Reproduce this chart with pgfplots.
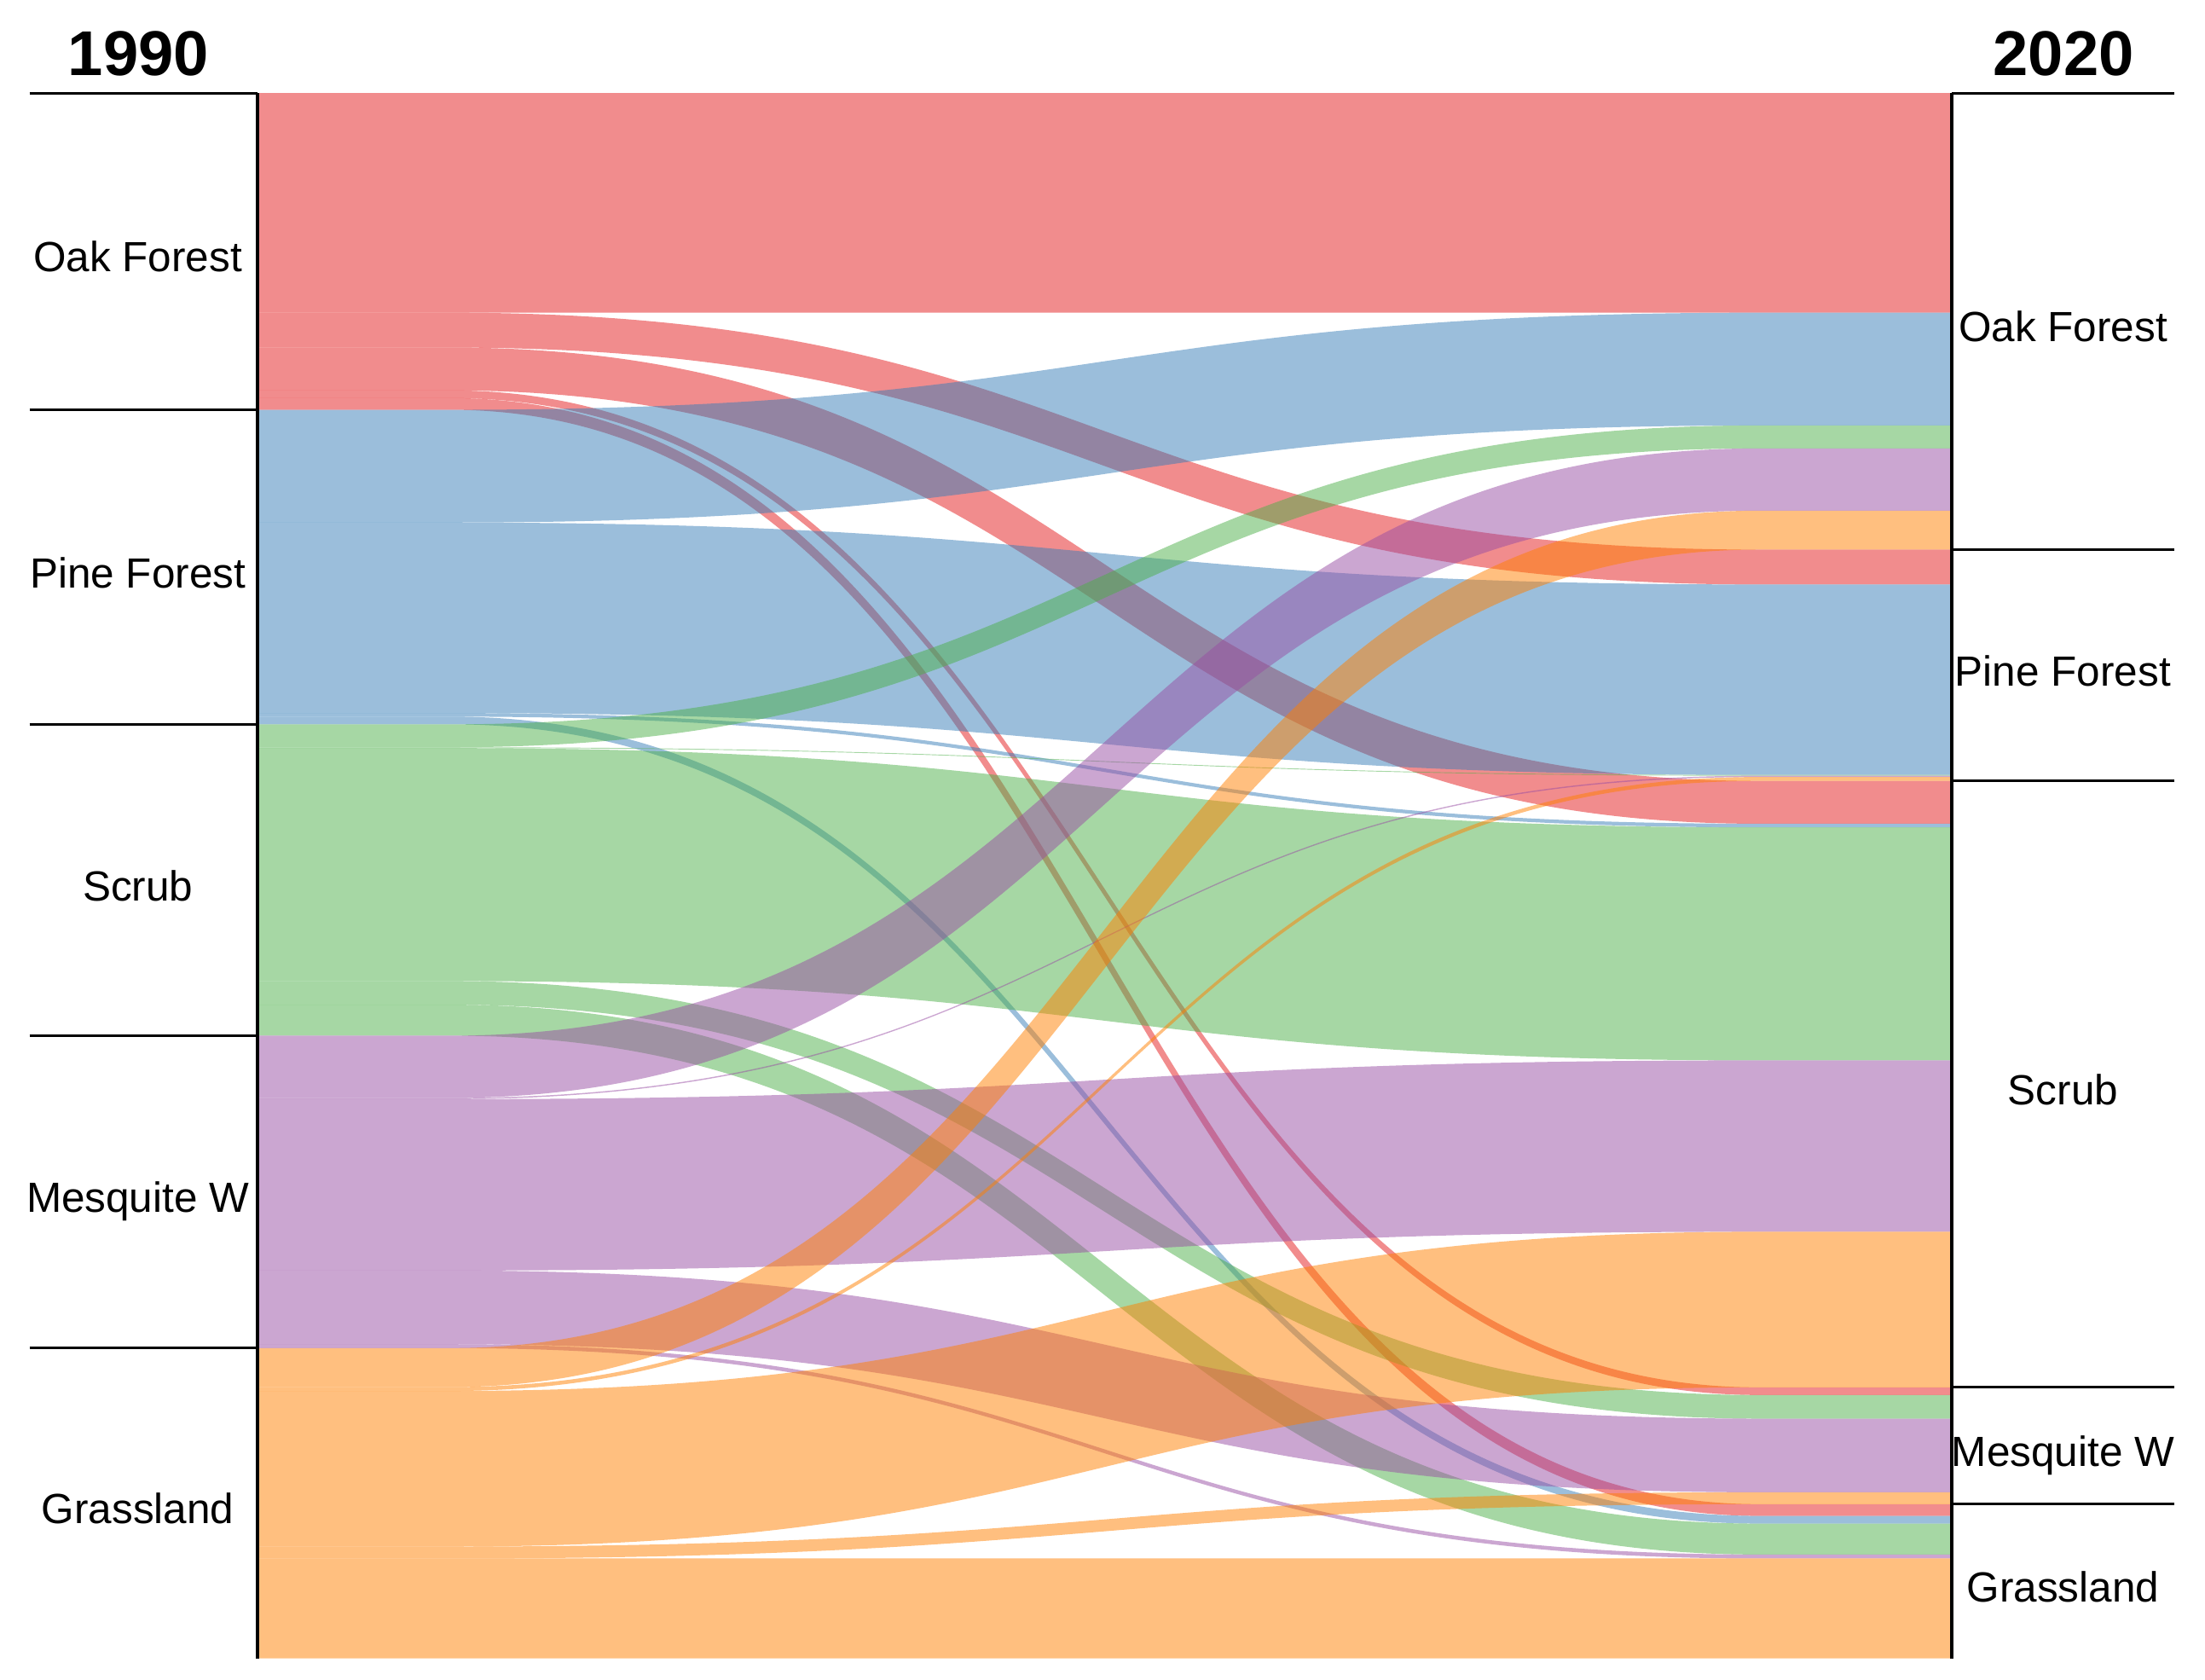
\documentclass[border=0pt]{standalone}
\usepackage{pgfplots}
\pgfplotsset{compat=1.18}
\usepackage{pgfplotstable}
\usepackage{fontspec}
\setmainfont{Liberation Sans}

\definecolor{c0}{HTML}{E41A1C}
\definecolor{c1}{HTML}{377EB8}
\definecolor{c2}{HTML}{4DAF4A}
\definecolor{c3}{HTML}{984EA3}
\definecolor{c4}{HTML}{FF7F00}

% Land-cover transitions 1990 -> 2020 (percent of total area)
% classes: 0 Oak Forest, 1 Pine Forest, 2 Scrub, 3 Mesquite W, 4 Grassland
\pgfplotstableread{
src dst val
0 0 14.05
0 1 2.23
0 2 2.74
0 3 0.49
0 4 0.75
1 0 7.21
1 1 12.18
1 2 0.23
1 4 0.49
2 0 1.47
2 1 0.05
2 2 14.90
2 3 1.51
2 4 1.98
3 0 3.98
3 1 0.08
3 2 10.96
3 3 4.71
3 4 0.25
4 0 2.49
4 1 0.25
4 2 9.95
4 3 0.76
4 4 6.39
}\flows

\newcommand\clsname[1]{\ifcase#1 Oak Forest\or Pine Forest\or Scrub\or Mesquite W\or Grassland\fi}
\newcommand\labfont{\fontsize{15}{18}\selectfont}
\newcommand\titfont{\fontsize{22.5}{27}\selectfont\bfseries}

% layout (x in picture units)
\def\xL{183}\def\xR{1388}
\def\xa{320}\def\xb{1251}\def\xm{785.5}

% ---- stacking of the flows ----
\pgfplotstablegetrowsof{\flows}
\pgfmathtruncatemacro\nrows{\pgfplotsretval-1}
\foreach \k in {0,...,4}{%
  \expandafter\xdef\csname C\k\endcsname{0}%
  \expandafter\xdef\csname R\k\endcsname{0}}
\xdef\cumL{0}
\foreach \i in {0,...,\nrows}{%
  \pgfplotstablegetelem{\i}{src}\of\flows \pgfmathtruncatemacro\fsrc{\pgfplotsretval}%
  \pgfplotstablegetelem{\i}{dst}\of\flows \pgfmathtruncatemacro\fdst{\pgfplotsretval}%
  \pgfplotstablegetelem{\i}{val}\of\flows \let\fval\pgfplotsretval
  \expandafter\xdef\csname FC\i\endcsname{c\fsrc}%
  \expandafter\xdef\csname D\i\endcsname{\fdst}%
  \expandafter\xdef\csname V\i\endcsname{\fval}%
  \expandafter\xdef\csname LT\i\endcsname{\cumL}%
  \pgfmathparse{\cumL+\fval}\xdef\cumL{\pgfmathresult}%
  \expandafter\xdef\csname LB\i\endcsname{\cumL}%
  \pgfmathparse{\csname C\fdst\endcsname+\fval}%
  \expandafter\xdef\csname C\fdst\endcsname{\pgfmathresult}%
  \pgfmathparse{\csname R\fsrc\endcsname+\fval}%
  \expandafter\xdef\csname R\fsrc\endcsname{\pgfmathresult}%
}
\xdef\accL{0}\xdef\accR{0}
\foreach \k in {0,...,4}{%
  \expandafter\xdef\csname LS\k\endcsname{\accL}%
  \expandafter\xdef\csname RS\k\endcsname{\accR}%
  \expandafter\xdef\csname P\k\endcsname{\accR}%
  \pgfmathparse{\accL+\csname R\k\endcsname}\xdef\accL{\pgfmathresult}%
  \pgfmathparse{\accR+\csname C\k\endcsname}\xdef\accR{\pgfmathresult}%
  \pgfmathparse{(\csname LS\k\endcsname+\accL)/2+1.32}%
  \expandafter\xdef\csname LY\k\endcsname{\pgfmathresult}%
  \pgfmathparse{(\csname RS\k\endcsname+\accR)/2+1.32}%
  \expandafter\xdef\csname RY\k\endcsname{\pgfmathresult}%
}
\xdef\totL{\accL}\xdef\totR{\accR}
\foreach \i in {0,...,\nrows}{%
  \edef\fdst{\csname D\i\endcsname}%
  \expandafter\xdef\csname RT\i\endcsname{\csname P\fdst\endcsname}%
  \pgfmathparse{\csname P\fdst\endcsname+\csname V\i\endcsname}%
  \expandafter\xdef\csname P\fdst\endcsname{\pgfmathresult}%
  \expandafter\xdef\csname RB\i\endcsname{\pgfmathresult}%
}

\newcommand\ribbon[1]{%
  \edef\tmp{\noexpand\fill[fill=\csname FC#1\endcsname, fill opacity=0.5, draw=none]
    (axis cs:\xL,\csname LT#1\endcsname) -- (axis cs:\xa,\csname LT#1\endcsname)
    .. controls (axis cs:\xm,\csname LT#1\endcsname) and (axis cs:\xm,\csname RT#1\endcsname) ..
    (axis cs:\xb,\csname RT#1\endcsname) -- (axis cs:\xR,\csname RT#1\endcsname)
    -- (axis cs:\xR,\csname RB#1\endcsname) -- (axis cs:\xb,\csname RB#1\endcsname)
    .. controls (axis cs:\xm,\csname RB#1\endcsname) and (axis cs:\xm,\csname LB#1\endcsname) ..
    (axis cs:\xa,\csname LB#1\endcsname) -- (axis cs:\xL,\csname LB#1\endcsname) -- cycle;}%
  \tmp}

\newcommand\stratum[1]{%
  \edef\tmp{%
    \noexpand\draw[line width=0.9pt] (axis cs:21,\csname LS#1\endcsname) -- (axis cs:\xL,\csname LS#1\endcsname);
    \noexpand\draw[line width=0.9pt] (axis cs:\xR,\csname RS#1\endcsname) -- (axis cs:1546,\csname RS#1\endcsname);
    \noexpand\node[anchor=base, inner sep=0pt, font=\noexpand\labfont] at (axis cs:98,\csname LY#1\endcsname) {\clsname{#1}};
    \noexpand\node[anchor=base, inner sep=0pt, font=\noexpand\labfont] at (axis cs:1467,\csname RY#1\endcsname) {\clsname{#1}};
  }\tmp}

\begin{document}
\begin{tikzpicture}
\begin{axis}[
  scale only axis, width=784pt, height=597pt,
  xmin=0, xmax=1568, ymin=-5.945, ymax=101.44, y dir=reverse,
  hide axis, clip=false]
\path (axis cs:0,-5.945) rectangle (axis cs:1568,101.44);
\pgfplotsinvokeforeach{0,...,\nrows}{\ribbon{#1}}
\pgfplotsinvokeforeach{0,...,4}{\stratum{#1}}
\draw[line width=1.3pt] (axis cs:\xL,0) -- (axis cs:\xL,\totL);
\draw[line width=1.3pt] (axis cs:\xR,0) -- (axis cs:\xR,\totR);
\node[anchor=base, inner sep=0pt, font=\titfont] at (axis cs:98.5,-1.13) {1990};
\node[anchor=base, inner sep=0pt, font=\titfont] at (axis cs:1467.5,-1.13) {2020};
\end{axis}
\end{tikzpicture}
\end{document}
